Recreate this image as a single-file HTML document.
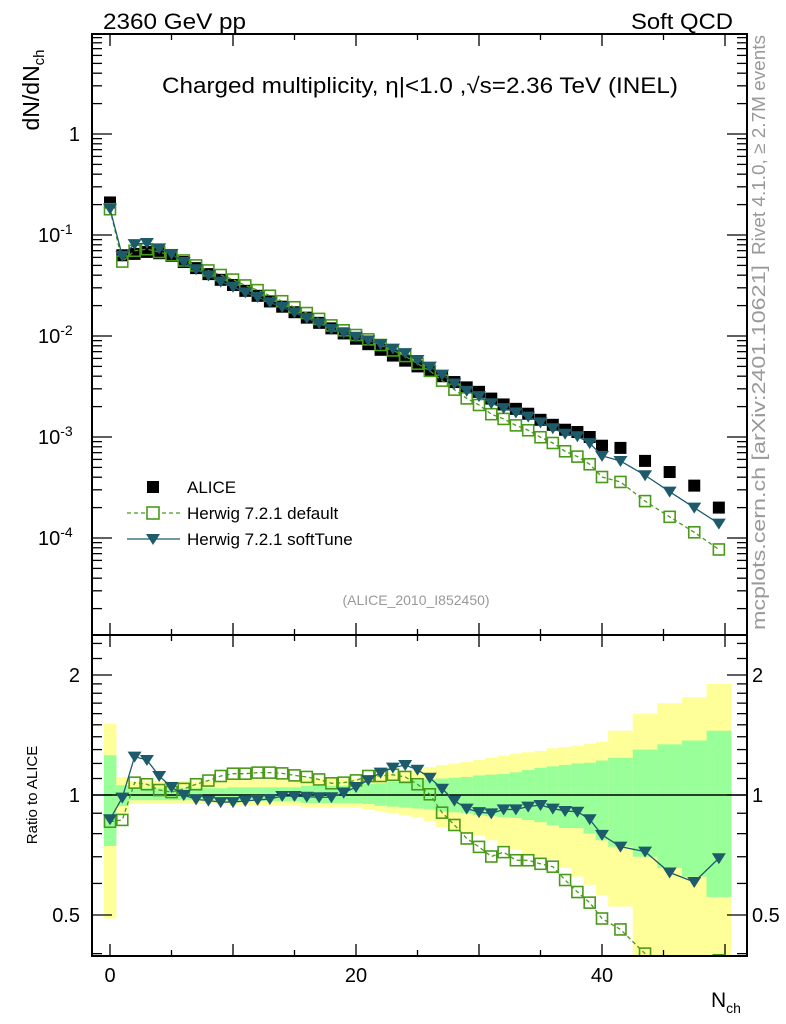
<!DOCTYPE html>
<html><head><meta charset="utf-8"><style>
html,body{margin:0;padding:0;background:#fff;}
svg{display:block;font-family:"Liberation Sans",Arial,sans-serif;}
</style></head><body>
<svg id="chart" width="786" height="1024" viewBox="0 0 786 1024" xmlns="http://www.w3.org/2000/svg">
<defs>
<clipPath id="cm"><rect x="92" y="34" width="655" height="601"/></clipPath>
<clipPath id="cr"><rect x="92" y="635" width="655" height="321"/></clipPath>
</defs>
<g id="bands" clip-path="url(#cr)"></g>
<g id="ticks"></g>
<line x1="92" y1="795" x2="747" y2="795" stroke="#000" stroke-width="1.5"/>
<g id="mainMarks" clip-path="url(#cm)"></g>
<g id="ratioMarks" clip-path="url(#cr)"></g>
<rect x="92" y="34" width="655" height="601" fill="none" stroke="#000" stroke-width="2"/>
<rect x="92" y="635" width="655" height="321" fill="none" stroke="#000" stroke-width="2"/>

<text x="103" y="29" font-size="22" textLength="143" lengthAdjust="spacingAndGlyphs">2360 GeV pp</text>
<text x="631" y="29" font-size="22" textLength="102" lengthAdjust="spacingAndGlyphs">Soft QCD</text>
<text x="162" y="93" font-size="22" textLength="516" lengthAdjust="spacingAndGlyphs">Charged multiplicity, η|&lt;1.0 ,√s=2.36 TeV (INEL)</text>
<text transform="translate(39,90) rotate(-90)" font-size="23" text-anchor="middle">dN/dN<tspan font-size="15" dy="5">ch</tspan></text>
<text transform="translate(765,255) rotate(-90)" font-size="18" fill="#999" textLength="220" lengthAdjust="spacingAndGlyphs">Rivet 4.1.0, ≥ 2.7M events</text>
<text transform="translate(765,630) rotate(-90)" font-size="18" fill="#999" textLength="365" lengthAdjust="spacingAndGlyphs">mcplots.cern.ch [arXiv:2401.10621]</text>
<text x="416" y="605" font-size="14" fill="#999" text-anchor="middle">(ALICE_2010_I852450)</text>
<text transform="translate(37,795) rotate(-90)" font-size="15" text-anchor="middle">Ratio to ALICE</text>
<text x="711" y="1007" font-size="21">N<tspan font-size="14" dy="6">ch</tspan></text>

<g>
<g><rect x="147" y="481" width="12" height="12" fill="#000"/><text x="187" y="493" font-size="17">ALICE</text></g>
<g><line x1="127" y1="513" x2="180" y2="513" stroke="#4a9a1a" stroke-width="1.3" stroke-dasharray="4,3"/><rect x="147" y="507" width="12" height="12" fill="#fff" stroke="#4a9a1a" stroke-width="1.6"/><text x="187" y="519" font-size="17">Herwig 7.2.1 default</text></g>
<g><line x1="127" y1="539" x2="180" y2="539" stroke="#1d5b6b" stroke-width="1.3"/><polygon points="146,534 160,534 153,545" fill="#1d5b6b"/><text x="187" y="545" font-size="17">Herwig 7.2.1 softTune</text></g>
</g>
</svg>
<script>
const nch = [0,1,2,3,4,5,6,7,8,9,10,11,12,13,14,15,16,17,18,19,20,21,22,23,24,25,26,27,28,29,30,31,32,33,34,35,36,37,38,39,40,41.5,43.5,45.5,47.5,49.5];
const binHalf = [0.5,0.5,0.5,0.5,0.5,0.5,0.5,0.5,0.5,0.5,0.5,0.5,0.5,0.5,0.5,0.5,0.5,0.5,0.5,0.5,0.5,0.5,0.5,0.5,0.5,0.5,0.5,0.5,0.5,0.5,0.5,0.5,0.5,0.5,0.5,0.5,0.5,0.5,0.5,0.5,0.5,1,1,1,1,1];
const alice = [0.21,0.063,0.065,0.068,0.066,0.062,0.054,0.047,0.041,0.036,0.032,0.028,0.025,0.022,0.0195,0.0172,0.0152,0.0135,0.0119,0.0106,0.0094,0.0083,0.0073,0.0064,0.0057,0.0050,0.0045,0.0040,0.0035,0.0031,0.0028,0.0024,0.0021,0.0019,0.0017,0.00148,0.00132,0.00118,0.00112,0.001,0.00082,0.00078,0.00058,0.00045,0.00033,0.0002];
const softRatio = [0.869,0.985,1.248,1.224,1.116,1.047,1.0,0.975,0.968,0.96,0.96,0.966,0.972,0.977,0.994,0.994,0.99,0.987,0.987,1.013,1.047,1.09,1.138,1.171,1.189,1.157,1.105,1.037,0.968,0.924,0.906,0.899,0.92,0.92,0.935,0.944,0.924,0.912,0.908,0.869,0.794,0.742,0.721,0.639,0.605,0.694];
const defRatio = [0.857,0.866,1.074,1.064,1.029,1.017,1.036,1.064,1.087,1.116,1.131,1.131,1.138,1.138,1.133,1.12,1.11,1.094,1.07,1.074,1.088,1.116,1.116,1.124,1.11,1.064,1.004,0.903,0.841,0.778,0.741,0.701,0.719,0.686,0.686,0.672,0.661,0.612,0.571,0.537,0.49,0.46,0.40,0.36,0.345,0.385];
const yellowHi = [1.51,1.11,1.085,1.085,1.085,1.085,1.085,1.085,1.085,1.085,1.09,1.09,1.09,1.09,1.09,1.09,1.1,1.1,1.1,1.1,1.1,1.12,1.13,1.14,1.15,1.16,1.175,1.19,1.2,1.21,1.225,1.24,1.255,1.27,1.28,1.29,1.31,1.32,1.33,1.345,1.36,1.45,1.6,1.7,1.76,1.9];
const yellowLo = [0.49,0.903,0.95,0.95,0.95,0.95,0.95,0.95,0.95,0.95,0.94,0.94,0.94,0.94,0.94,0.94,0.93,0.93,0.93,0.93,0.93,0.92,0.91,0.9,0.89,0.88,0.86,0.83,0.82,0.80,0.79,0.77,0.75,0.73,0.71,0.70,0.69,0.656,0.624,0.595,0.561,0.525,0.3,0.3,0.3,0.3];
const greenHi = [1.258,1.058,1.04,1.04,1.04,1.04,1.04,1.04,1.04,1.04,1.045,1.045,1.045,1.045,1.045,1.045,1.055,1.055,1.055,1.055,1.055,1.065,1.07,1.08,1.085,1.09,1.095,1.1,1.105,1.11,1.12,1.125,1.13,1.14,1.155,1.17,1.18,1.19,1.2,1.205,1.22,1.24,1.30,1.34,1.37,1.45];
const greenLo = [0.745,0.938,0.97,0.97,0.97,0.97,0.97,0.97,0.97,0.97,0.965,0.965,0.965,0.965,0.965,0.965,0.955,0.955,0.955,0.955,0.955,0.95,0.94,0.935,0.93,0.925,0.92,0.91,0.905,0.9,0.89,0.885,0.88,0.876,0.865,0.855,0.84,0.826,0.826,0.80,0.77,0.742,0.70,0.656,0.624,0.555];
const xTicksMajor = [0,20,40];
const mainTickLabels = [["1",0],["10","-1"],["10","-2"],["10","-3"],["10","-4"]];
const ratioTickLabels = ["2","1","0.5"];

const NS="http://www.w3.org/2000/svg";
const xs = n => 110 + n*12.3;
const ym = v => 134 - 101*Math.log10(v);
const yr = r => 795 - 120*Math.log2(r);
function mk(tag, attrs, parent){const e=document.createElementNS(NS,tag);for(const k in attrs)e.setAttribute(k,attrs[k]);parent.appendChild(e);return e;}
const bands=document.getElementById('bands'), ticks=document.getElementById('ticks');
const mainG=document.getElementById('mainMarks'), ratG=document.getElementById('ratioMarks');

for(let i=0;i<nch.length;i++){
  const x0=xs(nch[i]-binHalf[i]), w=xs(nch[i]+binHalf[i])-x0;
  const y1=mk('rect',{x:x0,y:yr(yellowHi[i]),width:w+0.3,height:yr(yellowLo[i])-yr(yellowHi[i]),fill:'#ffff99'},bands);
  
  
  const g1=mk('rect',{x:x0,y:yr(greenHi[i]),width:w+0.3,height:yr(greenLo[i])-yr(greenHi[i]),fill:'#99ff99'},bands);
  
  
}

function tick(x1,y1,x2,y2){mk('line',{x1,y1,x2,y2,stroke:'#000','stroke-width':1.3},ticks);}
for(let n=0;n<=50;n+=5){
  const L = (n%10===0)?12:6, x=xs(n);
  tick(x,635,x,635-L); tick(x,34,x,34+L);
  tick(x,956,x,956-L); tick(x,635,x,635+L);
}
for(let d=-5;d<=0;d++){
  for(let m=1;m<=9;m++){
    const v=m*Math.pow(10,d), y=ym(v);
    if(y<34||y>635) continue;
    const L = m===1?20:10;
    tick(92,y,92+L,y); tick(747,y,747-L,y);
  }
}
[0.4,0.5,0.6,0.7,0.8,0.9,1,1.1,1.2,1.3,1.4,1.5,1.6,1.7,1.8,1.9,2,2.2,2.4].forEach(r=>{
  const y=yr(r); if(y<636||y>955) return;
  const L=(r===0.5||r===1||r===2)?20:10;
  tick(92,y,92+L,y); tick(747,y,747-L,y);
});
xTicksMajor.forEach(n=>{const t=mk('text',{x:xs(n),y:982,'font-size':20,'text-anchor':'middle'},ticks);t.textContent=String(n);
  
  });
mainTickLabels.forEach((lab,i)=>{
  const y=ym(Math.pow(10,-i));
  const t=mk('text',{x:80,y:y+7,'font-size':20,'text-anchor':'end'},ticks);
  
  
  if(i===0){t.textContent=lab[0];}
  else{t.textContent=lab[0];const s=document.createElementNS(NS,'tspan');s.setAttribute('font-size',14);s.setAttribute('dy',-8);s.textContent=lab[1];t.appendChild(s);t.setAttribute('text-anchor','start');t.setAttribute('x',38);}
});
ratioTickLabels.forEach(l=>{
  const y=yr(parseFloat(l))+7;
  const a=mk('text',{x:80,y,'font-size':20,'text-anchor':'end'},ticks);a.textContent=l;
  
  
  const b=mk('text',{x:752,y,'font-size':20},ticks);b.textContent=l;
  
  
});

const GREEN='#4a9a1a', TEAL='#1d5b6b';
function series(g, yfun, vals, kind){
  const pts=vals.map((v,i)=>[xs(nch[i]),yfun(v)]);
  if(kind!=='alice'){
    const pl=mk('polyline',{points:pts.map(p=>p.join(',')).join(' '),fill:'none',stroke:kind==='def'?GREEN:TEAL,'stroke-width':1.3,'stroke-dasharray':kind==='def'?'4,3':'none'},g);
    
    
  }
  pts.forEach(([x,y])=>{
    let e;
    if(kind==='alice'){e=mk('rect',{x:x-6,y:y-6,width:12,height:12,fill:'#000'},g);
      }
    else if(kind==='def'){e=mk('rect',{x:x-5.5,y:y-5.5,width:11,height:11,fill:'none',stroke:GREEN,'stroke-width':1.6},g);
      }
    else{e=mk('polygon',{points:`${x-7},${y-5} ${x+7},${y-5} ${x},${y+6}`,fill:TEAL},g);
      }
    
  });
}
series(mainG, ym, alice, 'alice');
series(mainG, ym, alice.map((a,i)=>a*defRatio[i]), 'def');
series(mainG, ym, alice.map((a,i)=>a*softRatio[i]), 'soft');
series(ratG, yr, defRatio, 'def');
series(ratG, yr, softRatio, 'soft');
</script>
</body></html>
